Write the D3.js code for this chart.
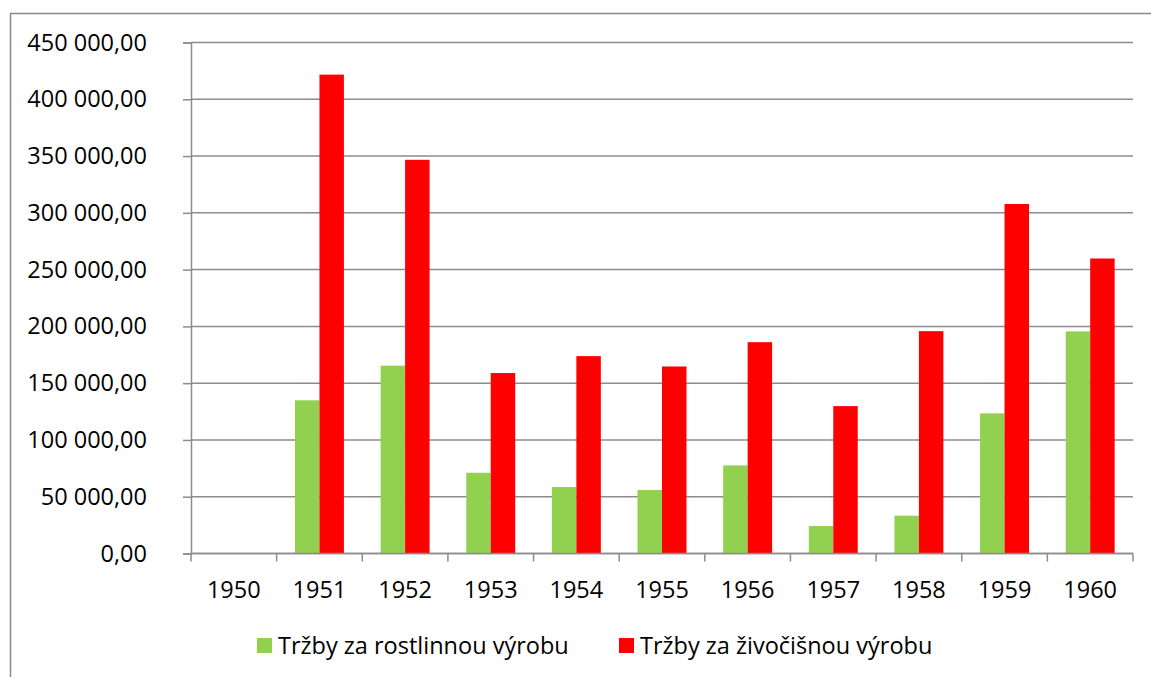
<!DOCTYPE html>
<html>
<head>
<meta charset="utf-8">
<script src="https://cdn.jsdelivr.net/npm/d3@7"></script>
<style>
  body { margin: 0; background: #fff; }
  svg { display: block; font-family: "Open Sans", sans-serif; }
</style>
</head>
<body>
<div id="chart_div"></div>
<script>
// data
var years = ["1950", "1951", "1952", "1953", "1954", "1955", "1956", "1957", "1958", "1959", "1960"];
var rostlinna = [0, 134900, 165400, 71100, 58500, 55900, 77600, 24200, 33300, 123400, 195600];
var zivocisna = [0, 421700, 346700, 158900, 173800, 164700, 186100, 129800, 195800, 307800, 259800];
var seriesNames = ["Tržby za rostlinnou výrobu", "Tržby za živočišnou výrobu"];
var seriesColors = ["#92D050", "#FF0000"];
var yTicks = [0, 50000, 100000, 150000, 200000, 250000, 300000, 350000, 400000, 450000];

var width = 1151, height = 677;
var marginLeft = 191, marginRight = 18, marginTop = 42.5, plotBottom = 553.5;
var fontSize = "23.5px";

var svg = d3.select("#chart_div").append("svg")
    .attr("width", width)
    .attr("height", height);

// chart frame (runs off the right and bottom edge)
svg.append("rect")
    .attr("x", 10.5).attr("y", 13.5)
    .attr("width", width + 20).attr("height", height + 20)
    .attr("fill", "none")
    .attr("stroke", "#8a8a8a")
    .attr("stroke-width", 1.5);

var x = d3.scaleBand()
    .domain(years)
    .range([marginLeft, width - marginRight]);

var xs = d3.scaleBand()
    .domain([0, 1])
    .range([0, x.bandwidth()])
    .paddingOuter(0.75);

var y = d3.scaleLinear()
    .domain([0, 450000])
    .range([plotBottom, marginTop]);

var locale = d3.formatLocale({decimal: ",", thousands: " ", grouping: [3], currency: ["", ""]});
var fmt = locale.format(",.2f");

// gridlines
svg.append("g")
    .selectAll("line")
    .data(yTicks)
    .join("line")
    .attr("x1", marginLeft).attr("x2", width - marginRight)
    .attr("y1", d => y(d)).attr("y2", d => y(d))
    .attr("stroke", "#8c8c8c")
    .attr("stroke-width", 1.5);

// y axis
svg.append("g")
    .attr("transform", `translate(${marginLeft},0)`)
    .call(d3.axisLeft(y).tickValues(yTicks).tickFormat(fmt).tickSize(8).tickPadding(36))
    .call(g => g.select(".domain").attr("stroke", "#8c8c8c").attr("stroke-width", 1.5))
    .call(g => g.selectAll(".tick line").attr("stroke", "#8c8c8c").attr("stroke-width", 1.5))
    .call(g => g.selectAll("text").attr("fill", "#000").style("font-size", fontSize).style("font-family", "Open Sans"));

// bars
var rows = years.map((yr, i) => ({year: yr, vals: [rostlinna[i], zivocisna[i]]}));
svg.append("g")
    .selectAll("g")
    .data(rows)
    .join("g")
    .attr("transform", d => `translate(${x(d.year)},0)`)
    .selectAll("rect")
    .data(d => d.vals.map((v, k) => ({k: k, v: v})))
    .join("rect")
    .attr("x", d => xs(d.k))
    .attr("width", xs.bandwidth())
    .attr("y", d => y(d.v))
    .attr("height", d => plotBottom - y(d.v))
    .attr("fill", d => seriesColors[d.k]);

// x axis with ticks on category boundaries
var xAxis = svg.append("g")
    .attr("transform", `translate(0,${plotBottom})`);
xAxis.append("line")
    .attr("x1", marginLeft).attr("x2", width - marginRight)
    .attr("stroke", "#8c8c8c").attr("stroke-width", 1.5);
xAxis.selectAll(".bound")
    .data(years.concat(["end"]))
    .join("line")
    .attr("class", "bound")
    .attr("x1", (d, i) => i < years.length ? x(d) : x(years[years.length - 1]) + x.bandwidth())
    .attr("x2", (d, i) => i < years.length ? x(d) : x(years[years.length - 1]) + x.bandwidth())
    .attr("y1", 0).attr("y2", 8)
    .attr("stroke", "#8c8c8c").attr("stroke-width", 1.5);
xAxis.selectAll("text")
    .data(years)
    .join("text")
    .attr("x", d => x(d) + x.bandwidth() / 2)
    .attr("y", 36)
    .attr("dy", "0.35em")
    .attr("text-anchor", "middle")
    .attr("fill", "#000")
    .style("font-size", fontSize)
    .text(d => d);

// legend
var legendX = [257, 619];
var legend = svg.append("g")
    .selectAll("g")
    .data(seriesNames)
    .join("g")
    .attr("transform", (d, i) => `translate(${legendX[i]},638)`);
legend.append("rect")
    .attr("width", 15).attr("height", 15)
    .attr("fill", (d, i) => seriesColors[i]);
legend.append("text")
    .attr("x", 21)
    .attr("y", 7.5)
    .attr("dy", "0.35em")
    .attr("fill", "#000")
    .style("font-size", fontSize)
    .text(d => d);
</script>
</body>
</html>
